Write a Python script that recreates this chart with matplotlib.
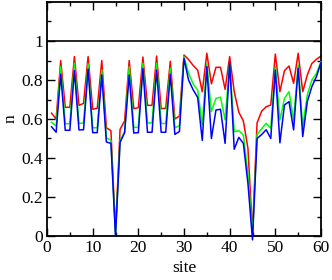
import matplotlib
matplotlib.use("Agg")
import matplotlib.pyplot as plt
from matplotlib.ticker import MultipleLocator, FixedLocator, FuncFormatter

sites = list(range(1, 61))
red = [0.63, 0.60, 0.90, 0.66, 0.66, 0.92, 0.67, 0.68, 0.92, 0.65,
       0.655, 0.90, 0.555, 0.54, 0.02, 0.547, 0.59, 0.90, 0.653, 0.658,
       0.918, 0.67, 0.67, 0.923, 0.653, 0.655, 0.896, 0.60, 0.615, 0.928,
       0.905, 0.875, 0.85, 0.74, 0.937, 0.78, 0.865, 0.865, 0.752, 0.92,
       0.74, 0.635, 0.59, 0.45, 0.02, 0.58, 0.64, 0.663, 0.672, 0.933,
       0.74, 0.848, 0.872, 0.783, 0.937, 0.74, 0.826, 0.885, 0.906, 0.923]
green = [0.583, 0.564, 0.868, 0.576, 0.576, 0.886, 0.577, 0.58, 0.883, 0.555,
         0.555, 0.851, 0.503, 0.492, 0.01, 0.49, 0.535, 0.868, 0.557, 0.557,
         0.886, 0.58, 0.58, 0.886, 0.577, 0.577, 0.86, 0.555, 0.566, 0.92,
         0.835, 0.78, 0.748, 0.57, 0.885, 0.638, 0.706, 0.712, 0.595, 0.885,
         0.535, 0.54, 0.518, 0.32, 0.01, 0.52, 0.55, 0.578, 0.552, 0.868,
         0.595, 0.706, 0.74, 0.595, 0.877, 0.56, 0.723, 0.80, 0.834, 0.894]
blue = [0.56, 0.532, 0.83, 0.542, 0.542, 0.848, 0.544, 0.545, 0.856, 0.53,
        0.53, 0.826, 0.482, 0.475, 0.0, 0.48, 0.53, 0.826, 0.528, 0.53,
        0.859, 0.532, 0.532, 0.851, 0.532, 0.532, 0.83, 0.521, 0.536, 0.91,
        0.80, 0.75, 0.71, 0.49, 0.868, 0.50, 0.646, 0.65, 0.475, 0.89,
        0.445, 0.506, 0.475, 0.27, -0.02, 0.50, 0.52, 0.545, 0.50, 0.851,
        0.478, 0.672, 0.689, 0.544, 0.86, 0.51, 0.689, 0.766, 0.817, 0.89]
ref_level = 1.0

plt.rcParams['font.family'] = ['Liberation Serif', 'DejaVu Serif']
fig = plt.figure(figsize=(3.32, 2.80), dpi=100)
ax = fig.add_axes([47/332, 1-236/280, (321-47)/332, (236-2)/280])

ax.axhline(ref_level, color='black', lw=1.2, zorder=1)
ax.plot(sites, red, color='#ff0000', lw=1.1, zorder=2, clip_on=False)
ax.plot(sites, green, color='#00ff00', lw=1.1, zorder=3, clip_on=False)
ax.plot(sites, blue, color='#0000ff', lw=1.1, zorder=4, clip_on=False)

ax.set_xlim(0, 60)
ax.set_ylim(0, 1.2)
ax.xaxis.set_major_locator(MultipleLocator(10))
ax.xaxis.set_minor_locator(MultipleLocator(5))
ax.yaxis.set_major_locator(FixedLocator([0, 0.2, 0.4, 0.6, 0.8, 1.0]))
ax.yaxis.set_minor_locator(MultipleLocator(0.1))
ax.yaxis.set_major_formatter(FuncFormatter(lambda v, p: '%g' % round(v, 2)))
ax.tick_params(which='both', direction='in', top=True, right=True, width=1.0,
               labelsize=12.5, pad=3)
ax.tick_params(which='major', length=5.5)
ax.tick_params(which='minor', length=3.2)
for s in ax.spines.values():
    s.set_linewidth(1.3)
ax.set_xlabel('site', fontsize=12.5, labelpad=3)
ax.set_ylabel('n', fontsize=12.5, labelpad=2)

fig.savefig('out.png', dpi=100)
